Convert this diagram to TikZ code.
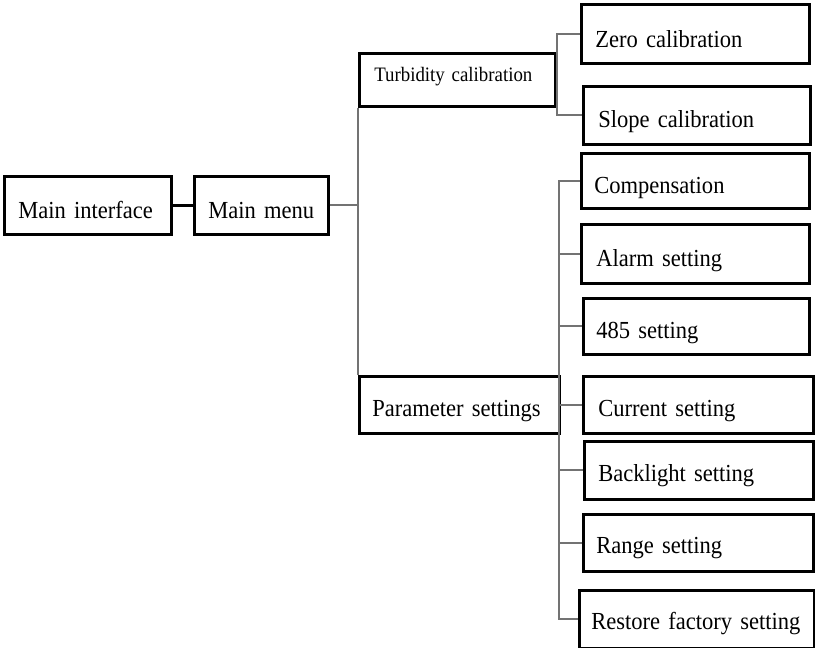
\documentclass[tikz,border=0pt]{standalone}
\usepackage{fontspec}
\setmainfont{Liberation Serif}[FakeStretch=0.92]
\begin{document}
\begin{tikzpicture}[x=1pt,y=-1pt,
  bx/.style n args={3}{draw=black, line width=2.6pt, rectangle, anchor=north west,
    inner xsep=0pt, inner ysep=0pt, align=left, text width=#1pt,
    text height=#2pt, text depth=#3pt, font=\fontsize{24.5}{28}\selectfont},
  small/.style={font=\fontsize{20.5}{24}\selectfont},
  link/.style={draw=black!55, line width=2pt},
  thick link/.style={draw=black, line width=3pt}]
\useasboundingbox (0,0) rectangle (815,648);
\node[bx={167}{42}{16}] (mainif) at (3,175) {\hspace*{14pt}Main interface};
\node[bx={134}{42}{16}] (mainmenu) at (193,175) {\hspace*{14pt}Main menu};
\node[bx={196}{28}{25},small] (turb) at (358,52) {\hspace*{15pt}Turbidity calibration};
\node[bx={228}{43}{16}] (zero) at (580,3) {\hspace*{14pt}Zero calibration};
\node[bx={227}{41}{17}] (slope) at (582,85) {\hspace*{15pt}Slope calibration};
\node[bx={228}{40}{15}] (comp) at (580,152) {\hspace*{13pt}Compensation};
\node[bx={228}{42}{17}] (alarm) at (580,223) {\hspace*{15pt}Alarm setting};
\node[bx={226}{40}{16}] (rs) at (582,297) {\hspace*{13pt}485 setting};
\node[bx={200}{40}{17}] (param) at (358,375) {\hspace*{13pt}Parameter settings};
\node[bx={230}{40}{17}] (current) at (582,375) {\hspace*{15pt}Current setting};
\node[bx={229}{40}{18}] (back) at (583,440) {\hspace*{14pt}Backlight setting};
\node[bx={230}{39}{18}] (range) at (582,513) {\hspace*{13pt}Range setting};
\node[bx={235}{39}{19}] (restore) at (578,589) {\hspace*{12pt}Restore factory setting};
% connectors
\draw[thick link] (mainif.east) -- (mainmenu.west);
\draw[link] (mainmenu.east) -- (mainmenu.east -| turb.south west);
\draw[link] (turb.south west) -- (param.north west);
\coordinate (bus2) at (557,0);
\draw[link] (zero.west) -- (zero.west -| bus2) |- (slope.west);
\coordinate (bus3) at (559,0);
\draw[link] (comp.west) -- (comp.west -| bus3) |- (restore.west);
\foreach \n in {alarm,rs,current,back,range}
  \draw[link] (\n.west) -- (\n.west -| bus3);
\end{tikzpicture}
\end{document}
